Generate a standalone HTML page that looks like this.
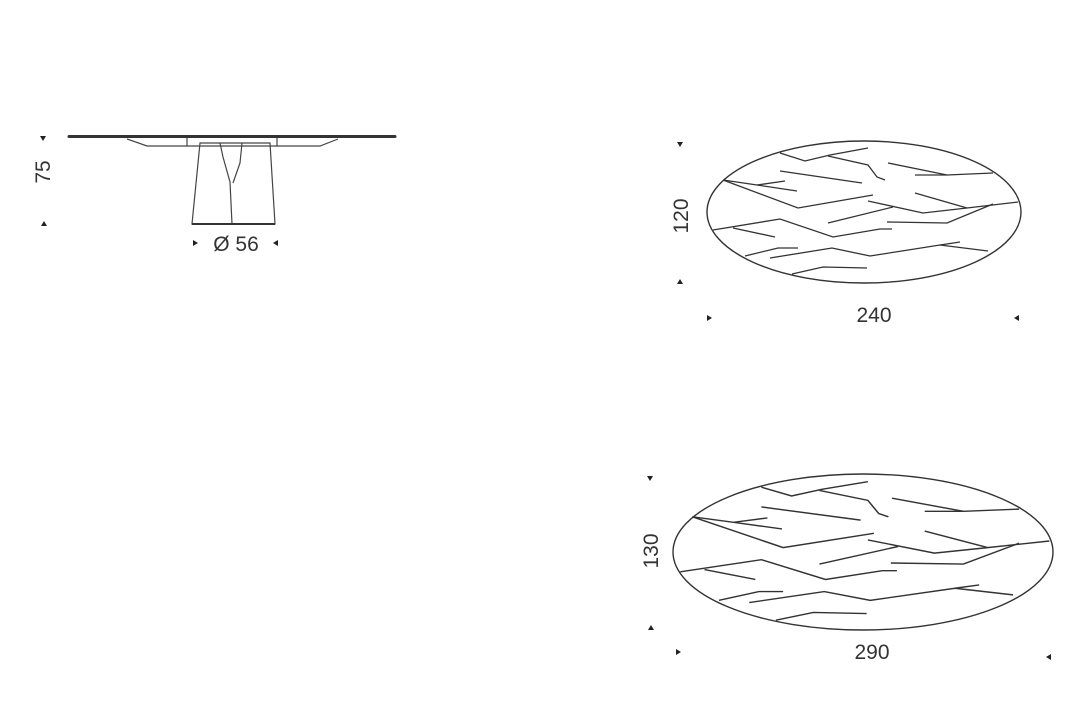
<!DOCTYPE html>
<html><head><meta charset="utf-8"><style>
html,body{margin:0;padding:0;background:#fff;}
svg{display:block}
text{font-family:"Liberation Sans",sans-serif;fill:#333;font-size:21px}
</style></head><body>
<svg width="1080" height="718" viewBox="0 0 1080 718">
<defs>
<g id="veins" fill="none" stroke="#333" stroke-width="1.3">
<polyline points="780,153 805,161 830,155 868,148"/>
<polyline points="828,156 868,165 877,177 885,180"/>
<polyline points="888,163 947,175 993,173"/>
<polyline points="915,175 947,175"/>
<polyline points="780,171 862,183"/>
<polyline points="723,180 757,185 785,181"/>
<polyline points="757,185 797,191"/>
<polyline points="723,180 798,208 873,195"/>
<polyline points="868,201 923,213 967,208 1018,202"/>
<polyline points="915,193 967,208"/>
<polyline points="828,223 893,207"/>
<polyline points="887,222 947,223 993,204"/>
<polyline points="713,230 780,219 833,237 880,229 892,229"/>
<polyline points="733,228 775,237"/>
<polyline points="745,256 778,248 798,248"/>
<polyline points="770,258 832,248 870,256 940,245 988,251"/>
<polyline points="940,245 960,242"/>
<polyline points="792,274 823,267 867,268"/>
</g>
</defs>
<!-- side view -->
<line x1="69" y1="136.5" x2="395" y2="136.5" stroke="#333" stroke-width="3" stroke-linecap="round"/>
<g fill="none" stroke="#444" stroke-width="1.2">
<polyline points="127,139 147,146 320,146 338,139"/>
<line x1="187" y1="138" x2="187" y2="146"/>
<line x1="277" y1="138" x2="277" y2="146"/>
<polygon points="200,143 270,143 275,224 192,224"/>
<polyline points="220,143 223,157 230,182 232,224"/>
<polyline points="242,143 240,163 233,183"/>
</g>
<line x1="192" y1="224" x2="275" y2="224" stroke="#333" stroke-width="2"/>
<text transform="translate(50,172) rotate(-90)" text-anchor="middle">75</text>
<polygon points="40,136 46,136 43,141" fill="#222"/>
<polygon points="41,226 47,226 44,221" fill="#222"/>
<text x="236" y="251" text-anchor="middle">Ø 56</text>
<polygon points="193,240 193,246 198,243" fill="#222"/>
<polygon points="278,240 278,246 273,243" fill="#222"/>
<!-- ellipse 1 -->
<ellipse cx="864" cy="212" rx="157" ry="71" fill="none" stroke="#333" stroke-width="1.4"/>
<use href="#veins"/>
<text transform="translate(688,216) rotate(-90)" text-anchor="middle">120</text>
<polygon points="677,142 683,142 680,147" fill="#222"/>
<polygon points="677,284 683,284 680,279" fill="#222"/>
<text x="874" y="322" text-anchor="middle">240</text>
<polygon points="707,315 707,321 712,318" fill="#222"/>
<polygon points="1019,315 1019,321 1014,318" fill="#222"/>
<!-- ellipse 2 -->
<ellipse cx="863" cy="552" rx="190" ry="78" fill="none" stroke="#333" stroke-width="1.4"/>
<g transform="translate(863,552) scale(1.21,1.099) translate(-864,-212)">
<use href="#veins" style="stroke-width:1.1"/>
</g>
<text transform="translate(658,551) rotate(-90)" text-anchor="middle">130</text>
<polygon points="647,476 653,476 650,481" fill="#222"/>
<polygon points="648,630 654,630 651,625" fill="#222"/>
<text x="872" y="659" text-anchor="middle">290</text>
<polygon points="676,649 676,655 681,652" fill="#222"/>
<polygon points="1051,654 1051,660 1046,657" fill="#222"/>
</svg>
</body></html>
